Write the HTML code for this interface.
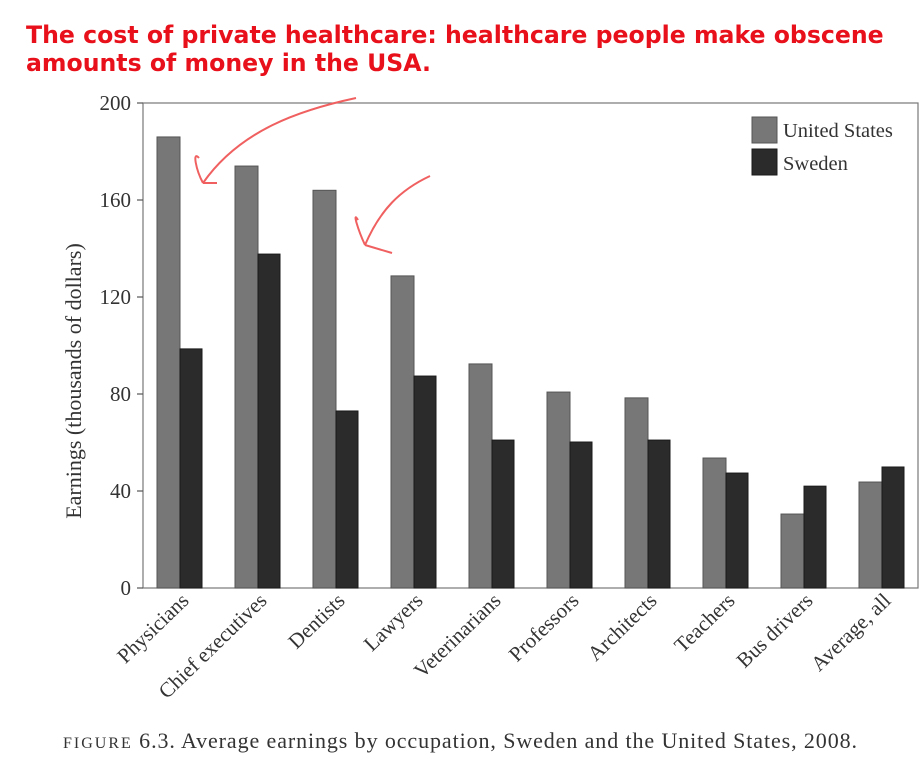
<!DOCTYPE html>
<html><head><meta charset="utf-8"><style>
body{margin:0;background:#fff;width:923px;height:767px;overflow:hidden}
svg{display:block}
</style></head><body>
<svg width="923" height="767">
<text x="26" y="43" font-family="DejaVu Sans, sans-serif" font-weight="bold" font-size="23.6" fill="#e8101a">The cost of private healthcare: healthcare people make obscene</text>
<text x="26" y="71" font-family="DejaVu Sans, sans-serif" font-weight="bold" font-size="23.6" fill="#e8101a">amounts of money in the USA.</text>
<g id="plot"></g>
<path d="M356,98 C300,110 240,130 203,183 M203,183 L217,183 M203,183 C196,170 192,150 199,158" fill="none" stroke="#f06060" stroke-width="2"/>
<path d="M430,176 C400,190 380,210 365,245 M365,245 L392,253 M365,245 C358,230 352,210 358,220" fill="none" stroke="#f06060" stroke-width="2"/>
<text x="63" y="748" font-family="Liberation Serif, serif" font-size="22" letter-spacing="0.9" fill="#333"><tspan font-size="16" letter-spacing="2">FIGURE</tspan> 6.3.  Average earnings by occupation, Sweden and the United States, 2008.</text>
</svg>
<script>
const categories=["Physicians","Chief executives","Dentists","Lawyers","Veterinarians","Professors","Architects","Teachers","Bus drivers","Average, all"];
const usValues=[186,174,164,128.7,92.4,80.8,78.4,53.6,30.5,43.7];
const swedenValues=[98.6,137.7,73,87.4,61,60.2,61,47.4,42,49.9];
const yTicks=[0,40,80,120,160,200];
const NS="http://www.w3.org/2000/svg";
const g=document.getElementById('plot');
const x0=143,x1=918,yTop=103,yBot=588;
const y=v=>yBot-(v/200)*(yBot-yTop);
const groupX=i=>157+i*78;
function el(t,a){const e=document.createElementNS(NS,t);for(const k in a)e.setAttribute(k,a[k]);g.appendChild(e);return e;}
let f=el('rect',{x:x0,y:yTop,width:x1-x0,height:yBot-yTop,fill:'none',stroke:'#777','stroke-width':1.2});


yTicks.forEach(t=>{
 let l=el('line',{x1:x0-6,x2:x0,y1:y(t),y2:y(t),stroke:'#555','stroke-width':1.2});
 
 
 let tx=el('text',{x:x0-12,y:y(t)+7,'text-anchor':'end','font-family':'Liberation Serif, serif','font-size':21,fill:'#333'});
 tx.textContent=t;
 
 
});
let yl=el('text',{transform:'translate(81,381) rotate(-90)','text-anchor':'middle','font-family':'Liberation Serif, serif','font-size':22,fill:'#333'});
yl.textContent='Earnings (thousands of dollars)';


categories.forEach((c,i)=>{
 const gx=groupX(i);
 let b1=el('rect',{x:gx,y:y(usValues[i]),width:23,height:yBot-y(usValues[i]),fill:'#777',stroke:'#555','stroke-width':1});
 
 
 let b2=el('rect',{x:gx+23,y:y(swedenValues[i]),width:22,height:yBot-y(swedenValues[i]),fill:'#2b2b2b',stroke:'#1a1a1a','stroke-width':1});
 
 
 let t=el('text',{transform:`translate(${gx+33},${yBot+14}) rotate(-44)`,'text-anchor':'end','font-family':'Liberation Serif, serif','font-size':21,fill:'#333'});
 t.textContent=c;
 
 
});
let l1=el('rect',{x:752,y:117,width:25,height:26,fill:'#777',stroke:'#555'});


let l2=el('rect',{x:752,y:149,width:25,height:26,fill:'#2b2b2b',stroke:'#1a1a1a'});


let t1=el('text',{x:783,y:137,'font-family':'Liberation Serif, serif','font-size':20.5,fill:'#333'});t1.textContent='United States';


let t2=el('text',{x:783,y:170,'font-family':'Liberation Serif, serif','font-size':20.5,fill:'#333'});t2.textContent='Sweden';


</script>
</body></html>
